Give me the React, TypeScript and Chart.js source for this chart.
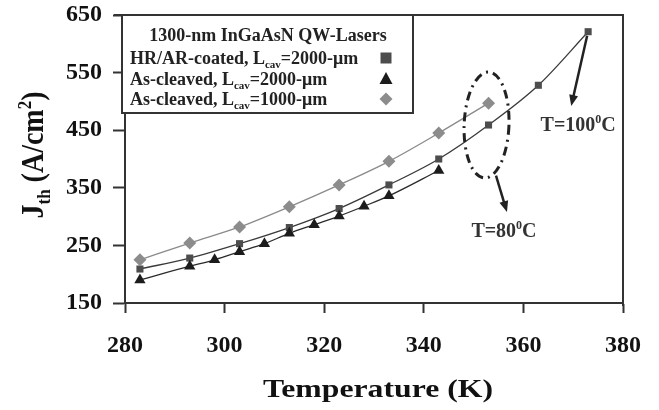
import React, { useEffect, useRef } from 'react';
import { Chart, registerables } from 'chart.js';

Chart.register(...registerables);

// ---- Data ----
const temps1000 = [283, 293, 303, 313, 323, 333, 343, 353];
const jth1000 = [225, 254, 282, 317, 355, 396, 445, 497];

const tempsHR = [283, 293, 303, 313, 323, 333, 343, 353, 363, 373];
const jthHR = [209, 228, 253, 281, 314, 355, 400, 459, 528, 621];

const tempsAC = [283, 293, 298, 303, 308, 313, 318, 323, 328, 333, 343];
const jthAC = [190, 214, 225, 239, 253, 271, 286, 301, 318, 336, 380];

const xTicks = [280, 300, 320, 340, 360, 380];
const yTicks = [150, 250, 350, 450, 550, 650];

const legendTitle = '1300-nm InGaAsN QW-Lasers';
const legendRows = [
  { pre: 'HR/AR-coated, L', sub: 'cav', post: '=2000-\u03bcm', marker: 'square' },
  { pre: 'As-cleaved, L', sub: 'cav', post: '=2000-\u03bcm', marker: 'triangle' },
  { pre: 'As-cleaved, L', sub: 'cav', post: '=1000-\u03bcm', marker: 'diamond' },
];

// annotation anchors in data coordinates
const ellipse80 = { x: 352.6, y: 459, rx: 4.5, ry: 92 };
const arrow80 = { x1: 354.5, y1: 371, x2: 356.7, y2: 308 };
const label80 = { x: 356.1, y: 277, text: 'T=80', sup: '0', tail: 'C' };
const arrow100 = { x1: 372.8, y1: 614, x2: 369.6, y2: 492 };
const label100 = { x: 371.0, y: 461, text: 'T=100', sup: '0', tail: 'C' };

const COL_SQ = '#4d4d4d';
const COL_TRI = '#1c1c1c';
const COL_DIA = '#8c8c8c';
const SERIF = '"Liberation Serif", "Times New Roman", serif';

type Part = { t: string; mode?: 'sub' | 'sup' };

function drawRich(ctx: CanvasRenderingContext2D, parts: Part[], x: number, y: number, size: number, align: 'left' | 'center', color: string) {
  const fontN = `bold ${size}px ${SERIF}`;
  const fontS = `bold ${Math.round(size * 0.62)}px ${SERIF}`;
  let total = 0;
  const widths = parts.map((p) => {
    ctx.font = p.mode ? fontS : fontN;
    const w = ctx.measureText(p.t).width;
    total += w;
    return w;
  });
  let cx = align === 'center' ? x - total / 2 : x;
  ctx.fillStyle = color;
  ctx.textBaseline = 'alphabetic';
  ctx.textAlign = 'left';
  parts.forEach((p, i) => {
    ctx.font = p.mode ? fontS : fontN;
    let dy = 0;
    if (p.mode === 'sub') dy = size * 0.22;
    if (p.mode === 'sup') dy = -size * 0.38;
    ctx.fillText(p.t, cx, y + dy);
    cx += widths[i];
  });
}

function drawArrow(ctx: CanvasRenderingContext2D, x1: number, y1: number, x2: number, y2: number) {
  const ang = Math.atan2(y2 - y1, x2 - x1);
  const head = 11;
  const hw = 4.5;
  ctx.save();
  ctx.strokeStyle = '#222';
  ctx.fillStyle = '#222';
  ctx.lineWidth = 2.5;
  ctx.beginPath();
  ctx.moveTo(x1, y1);
  ctx.lineTo(x2 - Math.cos(ang) * head * 0.8, y2 - Math.sin(ang) * head * 0.8);
  ctx.stroke();
  ctx.beginPath();
  ctx.moveTo(x2, y2);
  ctx.lineTo(x2 - Math.cos(ang) * head + Math.sin(ang) * hw, y2 - Math.sin(ang) * head - Math.cos(ang) * hw);
  ctx.lineTo(x2 - Math.cos(ang) * head - Math.sin(ang) * hw, y2 - Math.sin(ang) * head + Math.cos(ang) * hw);
  ctx.closePath();
  ctx.fill();
  ctx.restore();
}

function drawMarker(ctx: CanvasRenderingContext2D, kind: string, x: number, y: number) {
  ctx.save();
  ctx.beginPath();
  if (kind === 'square') {
    ctx.fillStyle = COL_SQ;
    ctx.rect(x - 5.5, y - 5.5, 11, 11);
  } else if (kind === 'triangle') {
    ctx.fillStyle = COL_TRI;
    ctx.moveTo(x, y - 7);
    ctx.lineTo(x + 6.5, y + 5);
    ctx.lineTo(x - 6.5, y + 5);
    ctx.closePath();
  } else {
    ctx.fillStyle = COL_DIA;
    ctx.moveTo(x, y - 6.5);
    ctx.lineTo(x + 6.5, y);
    ctx.lineTo(x, y + 6.5);
    ctx.lineTo(x - 6.5, y);
    ctx.closePath();
  }
  ctx.fill();
  ctx.restore();
}

const decorPlugin = {
  id: 'decor',
  afterDatasetsDraw(chart: any) {
    const ctx: CanvasRenderingContext2D = chart.ctx;
    const { left, right, top, bottom } = chart.chartArea;
    const xs = chart.scales.x;
    const ys = chart.scales.y;

    // frame: top and right
    ctx.save();
    ctx.strokeStyle = '#333';
    ctx.lineWidth = 2;
    ctx.beginPath();
    ctx.moveTo(left - 11, top);
    ctx.lineTo(right, top);
    ctx.lineTo(right, bottom + 3);
    ctx.stroke();
    ctx.restore();

    // legend box
    const lbL = left - 3;
    const lbR = 413;
    const lbT = top;
    const lbB = 113;
    ctx.save();
    ctx.fillStyle = '#fff';
    ctx.fillRect(lbL, lbT, lbR - lbL, lbB - lbT);
    ctx.strokeStyle = '#333';
    ctx.lineWidth = 2;
    ctx.strokeRect(lbL, lbT, lbR - lbL, lbB - lbT);
    ctx.restore();
    drawRich(ctx, [{ t: legendTitle }], 268, 41, 18, 'center', '#222');
    const rowY = [64, 85, 105];
    legendRows.forEach((r, i) => {
      drawRich(ctx, [{ t: r.pre }, { t: r.sub, mode: 'sub' }, { t: r.post }], 130, rowY[i], 18, 'left', '#222');
      drawMarker(ctx, r.marker, 386, rowY[i] - 6);
    });

    // dash-dot ellipse
    const ecx = xs.getPixelForValue(ellipse80.x);
    const ecy = ys.getPixelForValue(ellipse80.y);
    const erx = Math.abs(xs.getPixelForValue(ellipse80.x + ellipse80.rx) - ecx);
    const ery = Math.abs(ys.getPixelForValue(ellipse80.y + ellipse80.ry) - ecy);
    ctx.save();
    ctx.strokeStyle = '#222';
    ctx.lineWidth = 3;
    ctx.setLineDash([9, 5, 2, 5]);
    ctx.beginPath();
    ctx.ellipse(ecx, ecy, erx, ery, 0.04, 0, Math.PI * 2);
    ctx.stroke();
    ctx.restore();

    drawArrow(ctx, xs.getPixelForValue(arrow80.x1), ys.getPixelForValue(arrow80.y1), xs.getPixelForValue(arrow80.x2), ys.getPixelForValue(arrow80.y2));
    drawArrow(ctx, xs.getPixelForValue(arrow100.x1), ys.getPixelForValue(arrow100.y1), xs.getPixelForValue(arrow100.x2), ys.getPixelForValue(arrow100.y2));

    [label80, label100].forEach((l) => {
      drawRich(ctx, [{ t: l.text }, { t: l.sup, mode: 'sup' }, { t: l.tail }], xs.getPixelForValue(l.x), ys.getPixelForValue(l.y) + 7, 20, 'center', '#333');
    });

    // axis titles
    ctx.save();
    ctx.translate(378, 397);
    ctx.scale(1.22, 1);
    drawRich(ctx, [{ t: 'Temperature (K)' }], 0, 0, 26, 'center', '#111');
    ctx.restore();

    ctx.save();
    ctx.translate(43, 155);
    ctx.rotate(-Math.PI / 2);
    ctx.scale(1, 1.12);
    drawRich(ctx, [{ t: 'J' }, { t: 'th', mode: 'sub' }, { t: ' (A/cm' }, { t: '2', mode: 'sup' }, { t: ')' }], 0, 0, 28, 'center', '#111');
    ctx.restore();
  },
};

export default function App() {
  const ref = useRef<HTMLCanvasElement | null>(null);
  useEffect(() => {
    if (!ref.current) return;
    const tickFont = { family: SERIF, size: 24, weight: 'bold' as const };
    const chart = new Chart(ref.current, {
      type: 'line',
      data: {
        datasets: [
          {
            label: 'As-cleaved, Lcav=1000-um',
            data: temps1000.map((t, i) => ({ x: t, y: jth1000[i] })),
            borderColor: '#8a8a8a',
            borderWidth: 1.3,
            backgroundColor: COL_DIA,
            pointBackgroundColor: COL_DIA,
            pointBorderWidth: 0,
            pointStyle: 'rectRot',
            pointRadius: 6.5,
            tension: 0.4,
            cubicInterpolationMode: 'monotone',
          },
          {
            label: 'As-cleaved, Lcav=2000-um',
            data: tempsAC.map((t, i) => ({ x: t, y: jthAC[i] })),
            borderColor: '#2a2a2a',
            borderWidth: 1.3,
            backgroundColor: COL_TRI,
            pointBackgroundColor: COL_TRI,
            pointBorderWidth: 0,
            pointStyle: 'triangle',
            pointRadius: 6.5,
            tension: 0.4,
            cubicInterpolationMode: 'monotone',
          },
          {
            label: 'HR/AR-coated, Lcav=2000-um',
            data: tempsHR.map((t, i) => ({ x: t, y: jthHR[i] })),
            borderColor: '#3a3a3a',
            borderWidth: 1.3,
            backgroundColor: COL_SQ,
            pointBackgroundColor: COL_SQ,
            pointBorderWidth: 0,
            pointStyle: 'rect',
            pointRadius: 5,
            tension: 0.4,
            cubicInterpolationMode: 'monotone',
          },
        ],
      },
      options: {
        animation: false,
        responsive: false,
        events: [],
        layout: { padding: { left: 0, top: 15, right: 36, bottom: 0 } },
        plugins: { legend: { display: false }, tooltip: { enabled: false }, title: { display: false } },
        scales: {
          x: {
            type: 'linear',
            min: 280,
            max: 380,
            afterBuildTicks: (s: any) => { s.ticks = xTicks.map((v) => ({ value: v })); },
            afterFit: (s: any) => { s.height = 107; s.paddingLeft = 0; s.paddingRight = 0; },
            ticks: { color: '#111', font: tickFont, padding: 18, maxRotation: 0 },
            grid: { drawOnChartArea: false, drawTicks: true, tickLength: 10, tickColor: '#333', tickWidth: 2 },
            border: { display: true, color: '#333', width: 2 },
          },
          y: {
            type: 'linear',
            min: 150,
            max: 650,
            afterBuildTicks: (s: any) => { s.ticks = yTicks.map((v) => ({ value: v })); },
            afterFit: (s: any) => { s.width = 125; s.paddingTop = 0; s.paddingBottom = 0; },
            ticks: { color: '#111', font: tickFont, padding: 11 },
            grid: { drawOnChartArea: false, drawTicks: true, tickLength: 12, tickColor: '#333', tickWidth: 2 },
            border: { display: true, color: '#333', width: 2 },
          },
        },
      },
      plugins: [decorPlugin],
    } as any);
    return () => chart.destroy();
  }, []);
  return (
    <div style={{ position: 'absolute', left: 0, top: 0, width: 659, height: 410, background: '#fff' }}>
      <canvas ref={ref} width={659} height={410} style={{ width: 659, height: 410, display: 'block' }} />
    </div>
  );
}
